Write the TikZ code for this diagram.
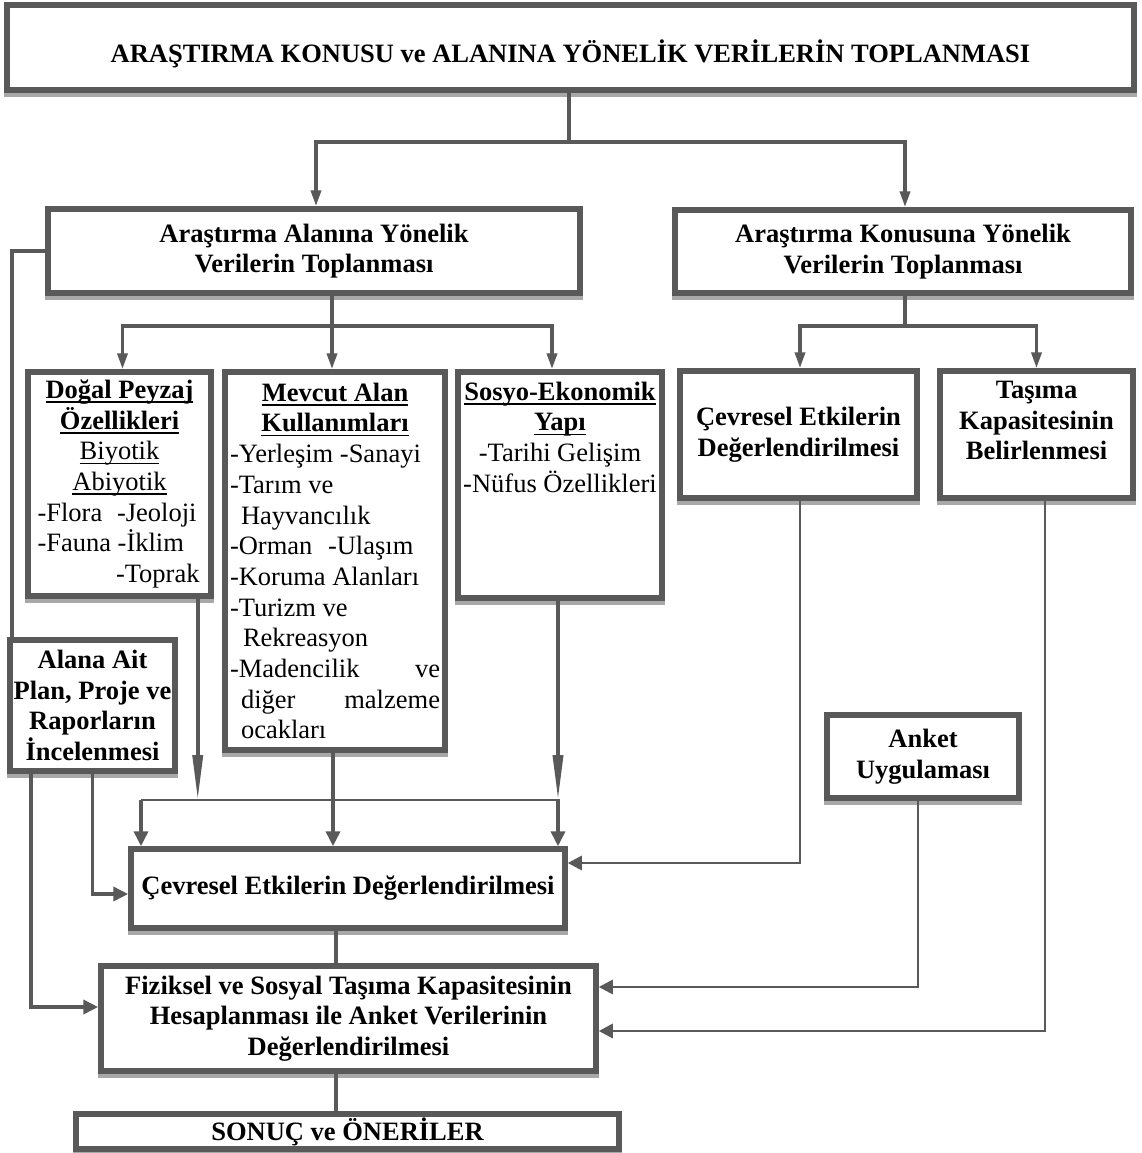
\documentclass[tikz,border=0pt]{standalone}
\usepackage{fontspec}
\setmainfont{Liberation Serif}
\usetikzlibrary{arrows.meta,calc}
\definecolor{lc}{HTML}{595959}
\definecolor{shc}{HTML}{A8A8A8}
\newcommand\ulx[1]{\leavevmode\setbox0\hbox{#1}\rlap{\rule[-4.5pt]{\wd0}{1.7pt}}\box0}
\begin{document}
\begin{tikzpicture}[x=1pt,y=-1pt,
  box/.style={draw=lc, line width=5.5pt, fill=white, rectangle, inner sep=0pt,
     font=\fontsize{26.5}{30.7}\selectfont\bfseries,
     preaction={draw=shc, line width=5.5pt, transform canvas={yshift=-4.5pt}}},
  cbox/.style={box, align=center},
  conn/.style={draw=lc, line width=3.6pt},
  thinconn/.style={draw=lc, line width=2.8pt},
  arr/.style={conn, -{Triangle[length=15pt,width=14pt]}},
  arrthin/.style={thinconn, -{Triangle[length=14pt,width=14pt]}},
  arrN/.style={conn, -{Triangle[length=16pt,width=10pt]}},
  arrL/.style={conn, -{Triangle[length=45pt,width=10pt]}}
]
\fill[white] (0,0) rectangle (1141,1153);
\useasboundingbox (0,0) rectangle (1141,1153);

% boxes
\node[cbox, minimum width=1127pt, minimum height=85pt] (top) at (570.5,47.5)
  {\raisebox{-15.5pt}[0pt][0pt]{ARAŞTIRMA KONUSU ve ALANINA YÖNELİK VERİLERİN TOPLANMASI}};
\node[cbox, minimum width=532pt, minimum height=84pt] (alan) at (314,251)
  {Araştırma Alanına Yönelik\\Verilerin Toplanması};
\node[cbox, minimum width=456pt, minimum height=83pt] (konu) at (903,251.5)
  {Araştırma Konusuna Yönelik\\Verilerin Toplanması};

\node[box, minimum width=183pt, minimum height=224pt] (dogal) at (119.5,484) {%
\begin{minipage}{164pt}
{\centering \ulx{Doğal Peyzaj}\\ \ulx{Özellikleri}\\ \mdseries\ulx{Biyotik}\\ \ulx{Abiyotik}\par}
\mdseries
-Flora\hfill-Jeoloji\kern5pt\\
-Fauna -İklim\\
\hspace*{\fill}-Toprak\kern2pt
\end{minipage}};

\node[box, minimum width=220pt, minimum height=378pt] (mevcut) at (335,561) {%
\begin{minipage}{210pt}
{\centering \ulx{Mevcut Alan}\\ \ulx{Kullanımları}\par}
\mdseries
-Yerleşim -Sanayi\\
-Tarım ve\\
\hspace*{11pt}Hayvancılık\\
-Orman\hspace{9pt} -Ulaşım\\
-Koruma Alanları\\
-Turizm ve\\
\hspace*{13pt}Rekreasyon\\
-Madencilik\hfill ve\\
\hspace*{11pt}diğer\hfill malzeme\\
\hspace*{11pt}ocakları
\end{minipage}};

\node[box, minimum width=204pt, minimum height=226pt] (sosyo) at (560,485) {%
\parbox[c][221pt][t]{200pt}{\centering\leavevmode\rule{0pt}{25.5pt}\ulx{Sosyo-Ekonomik}\\ \ulx{Yapı}\\ \mdseries -Tarihi Gelişim\\ -Nüfus Özellikleri}};

\node[cbox, minimum width=237pt, minimum height=127pt] (cevr) at (798.5,434.5)
  {Çevresel Etkilerin\\Değerlendirilmesi};
\node[box, minimum width=193pt, minimum height=127pt] (tasima) at (1036.5,434.5) {%
\parbox[c][122pt][t]{185pt}{\centering\leavevmode\rule{0pt}{25pt}Taşıma\\ Kapasitesinin\\ Belirlenmesi}};

\node[cbox, minimum width=165pt, minimum height=131pt] (alana) at (92.5,705.5)
  {Alana Ait\\Plan, Proje ve\\Raporların\\İncelenmesi};
\node[cbox, minimum width=192pt, minimum height=83pt] (anket) at (923,756.5)
  {Anket\\Uygulaması};
\node[cbox, minimum width=434pt, minimum height=79pt] (cevm) at (348,888.5)
  {Çevresel Etkilerin Değerlendirilmesi};
\node[cbox, minimum width=495pt, minimum height=105pt] (fiz) at (348.5,1018.5)
  {Fiziksel ve Sosyal Taşıma Kapasitesinin\\Hesaplanması ile Anket Verilerinin\\Değerlendirilmesi};
\node[cbox, minimum width=543pt, minimum height=35pt] (sonuc) at (347.5,1131.5)
  {SONUÇ ve ÖNERİLER};

% junction coordinates
\coordinate (j1) at (569,142);
\coordinate (j2) at (332,326);
\coordinate (j3) at (905,326);
\coordinate (jL) at (141,800);
\coordinate (jR) at (560,800);

% top level
\draw[conn] (top.south -| j1) -- (j1);
\draw[arrN] (j1) -| ([xshift=2pt]alan.north);
\draw[arrN] (j1) -| ([xshift=2pt]konu.north);

% from Alanina
\draw[conn] (alan.south -| j2) -- (j2);
\draw[arrN] (j2) -| ([xshift=3pt]dogal.north);
\draw[arrN] (j2) -- (j2 |- mevcut.north);
\draw[arrN] (j2) -| ([xshift=-8pt]sosyo.north);

% from Konusuna
\draw[conn] (konu.south -| j3) -- (j3);
\draw[arrN] (j3) -| ([xshift=1.5pt]cevr.north);
\draw[arrN] (j3) -| (tasima.north);

% feedback line on the left
\draw[conn] (alan.west) -| ([xshift=4.5pt]alana.north west);

% into the junction line
\draw[arrL] ([xshift=-16pt]dogal.south east) -- ([xshift=-16pt]dogal.south east |- jL);
\draw[arrL] ([xshift=-2pt]sosyo.south) -- ([xshift=-2pt]sosyo.south |- jR);
\draw[thinconn] (jL) -- (jR);
\draw[arr] (jL) -- (jL |- cevm.north);
\draw[arr] ([xshift=-2pt]jR) -- ([xshift=-2pt]jR |- cevm.north);
\draw[arr] ([xshift=-2pt]mevcut.south) -- ([xshift=-2pt]mevcut.south |- cevm.north);

% Alana Ait
\draw[arr] (alana.south) |- ([yshift=-5.5pt]cevm.west);
\draw[arr] ([xshift=24pt]alana.south west) |- ([yshift=11.5pt]fiz.west);

% right column
\draw[arrthin] ([xshift=1.5pt]cevr.south) |- ([yshift=25.5pt]cevm.east);
\draw[arrthin] ([xshift=-5pt]anket.south) |- ([yshift=31.5pt]fiz.east);
\draw[arrthin] ([xshift=8.5pt]tasima.south) |- ([yshift=-12.5pt]fiz.east);

% bottom chain
\draw[conn] ([xshift=-12pt]cevm.south) -- ([xshift=-12pt]cevm.south |- fiz.north);
\draw[conn] ([xshift=-12.5pt]fiz.south) -- ([xshift=-12.5pt]fiz.south |- sonuc.north);
\end{tikzpicture}
\end{document}
